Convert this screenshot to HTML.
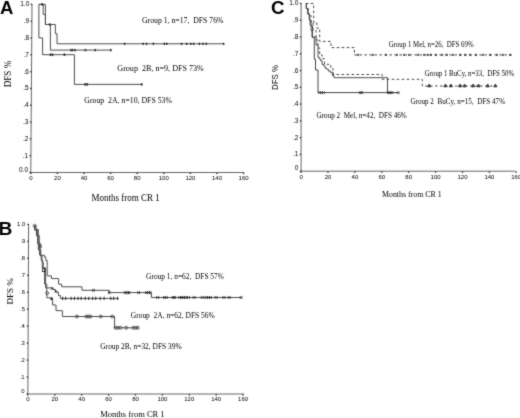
<!DOCTYPE html><html><head><meta charset="utf-8"><style>html,body{margin:0;padding:0;background:#fff;}svg{display:block;}</style></head><body>
<svg width="520" height="418" viewBox="0 0 520 418"><defs><filter id="bl" x="-0.05" y="-0.05" width="1.1" height="1.1" color-interpolation-filters="sRGB"><feConvolveMatrix order="3" kernelMatrix="0.0280 0.0800 0.0280 0.0800 0.5680 0.0800 0.0280 0.0800 0.0280" divisor="1" edgeMode="duplicate" preserveAlpha="true"/></filter></defs>
<g filter="url(#bl)"><rect x="-10" y="-10" width="540" height="438" fill="#fff"/>
<text x="0" y="14" font-family='"Liberation Sans", sans-serif' font-size="18.5" text-anchor="start" font-weight="bold" fill="#000" >A</text>
<text x="-1.4" y="234.7" font-family='"Liberation Sans", sans-serif' font-size="19.2" text-anchor="start" font-weight="bold" fill="#000" >B</text>
<text x="270.9" y="13.9" font-family='"Liberation Sans", sans-serif' font-size="18.7" text-anchor="start" font-weight="bold" fill="#000" >C</text>
<path d="M32.0,4.0 L30.8,172.5" fill="none" stroke="#666" stroke-width="1"/>
<path d="M30.8,172.5 H244" fill="none" stroke="#666" stroke-width="1"/>
<rect x="29.50" y="171.80" width="1.4" height="1.4" fill="#333"/>
<text x="28.1" y="171.65" font-family='"Liberation Sans", sans-serif' font-size="6.5" text-anchor="end" font-weight="normal" fill="#000" >0.0</text>
<rect x="29.62" y="154.99" width="1.4" height="1.4" fill="#333"/>
<text x="28.22" y="157.64" font-family='"Liberation Sans", sans-serif' font-size="6.5" text-anchor="end" font-weight="normal" fill="#000" >.1</text>
<rect x="29.74" y="138.18" width="1.4" height="1.4" fill="#333"/>
<text x="28.34" y="140.83" font-family='"Liberation Sans", sans-serif' font-size="6.5" text-anchor="end" font-weight="normal" fill="#000" >.2</text>
<rect x="29.86" y="121.37" width="1.4" height="1.4" fill="#333"/>
<text x="28.46" y="124.02" font-family='"Liberation Sans", sans-serif' font-size="6.5" text-anchor="end" font-weight="normal" fill="#000" >.3</text>
<rect x="29.98" y="104.56" width="1.4" height="1.4" fill="#333"/>
<text x="28.58" y="107.21" font-family='"Liberation Sans", sans-serif' font-size="6.5" text-anchor="end" font-weight="normal" fill="#000" >.4</text>
<rect x="30.10" y="87.75" width="1.4" height="1.4" fill="#333"/>
<text x="28.7" y="90.4" font-family='"Liberation Sans", sans-serif' font-size="6.5" text-anchor="end" font-weight="normal" fill="#000" >.5</text>
<rect x="30.22" y="70.94" width="1.4" height="1.4" fill="#333"/>
<text x="28.82" y="73.59" font-family='"Liberation Sans", sans-serif' font-size="6.5" text-anchor="end" font-weight="normal" fill="#000" >.6</text>
<rect x="30.34" y="54.13" width="1.4" height="1.4" fill="#333"/>
<text x="28.94" y="56.78" font-family='"Liberation Sans", sans-serif' font-size="6.5" text-anchor="end" font-weight="normal" fill="#000" >.7</text>
<rect x="30.46" y="37.32" width="1.4" height="1.4" fill="#333"/>
<text x="29.06" y="39.97" font-family='"Liberation Sans", sans-serif' font-size="6.5" text-anchor="end" font-weight="normal" fill="#000" >.8</text>
<rect x="30.58" y="20.51" width="1.4" height="1.4" fill="#333"/>
<text x="29.18" y="23.16" font-family='"Liberation Sans", sans-serif' font-size="6.5" text-anchor="end" font-weight="normal" fill="#000" >.9</text>
<rect x="30.70" y="3.70" width="1.4" height="1.4" fill="#333"/>
<text x="29.3" y="6.35" font-family='"Liberation Sans", sans-serif' font-size="6.5" text-anchor="end" font-weight="normal" fill="#000" >1.0</text>
<rect x="30.10" y="172.7" width="1.4" height="1.4" fill="#333"/>
<text x="30.8" y="180.0" font-family='"Liberation Sans", sans-serif' font-size="6" text-anchor="middle" font-weight="normal" fill="#000" >0</text>
<rect x="56.70" y="172.7" width="1.4" height="1.4" fill="#333"/>
<text x="57.4" y="180.0" font-family='"Liberation Sans", sans-serif' font-size="6" text-anchor="middle" font-weight="normal" fill="#000" >20</text>
<rect x="83.30" y="172.7" width="1.4" height="1.4" fill="#333"/>
<text x="84.0" y="180.0" font-family='"Liberation Sans", sans-serif' font-size="6" text-anchor="middle" font-weight="normal" fill="#000" >40</text>
<rect x="109.90" y="172.7" width="1.4" height="1.4" fill="#333"/>
<text x="110.6" y="180.0" font-family='"Liberation Sans", sans-serif' font-size="6" text-anchor="middle" font-weight="normal" fill="#000" >60</text>
<rect x="136.50" y="172.7" width="1.4" height="1.4" fill="#333"/>
<text x="137.2" y="180.0" font-family='"Liberation Sans", sans-serif' font-size="6" text-anchor="middle" font-weight="normal" fill="#000" >80</text>
<rect x="163.10" y="172.7" width="1.4" height="1.4" fill="#333"/>
<text x="163.8" y="180.0" font-family='"Liberation Sans", sans-serif' font-size="6" text-anchor="middle" font-weight="normal" fill="#000" >100</text>
<rect x="189.70" y="172.7" width="1.4" height="1.4" fill="#333"/>
<text x="190.4" y="180.0" font-family='"Liberation Sans", sans-serif' font-size="6" text-anchor="middle" font-weight="normal" fill="#000" >120</text>
<rect x="216.30" y="172.7" width="1.4" height="1.4" fill="#333"/>
<text x="217.0" y="180.0" font-family='"Liberation Sans", sans-serif' font-size="6" text-anchor="middle" font-weight="normal" fill="#000" >140</text>
<rect x="242.90" y="172.7" width="1.4" height="1.4" fill="#333"/>
<text x="243.6" y="180.0" font-family='"Liberation Sans", sans-serif' font-size="6" text-anchor="middle" font-weight="normal" fill="#000" >160</text>
<path d="M38.9,4.4 H43.2 V14.4 H45.4 V24.5 H55.4 V33.7 H57 V43.8 H224.2" fill="none" stroke="#4d4d4d" stroke-width="1"/>
<path d="M38.9,4.4 H45.4 V24.5 H50.4 V50.1 H111.3" fill="none" stroke="#4d4d4d" stroke-width="1"/>
<path d="M38.9,4.4 V37.9 H42.6 V54.7 H74.4 V84.4 H141.7" fill="none" stroke="#4d4d4d" stroke-width="1"/>
<rect x="41.5" y="3.2" width="1.6" height="2.4" fill="#222"/>
<rect x="48.900000000000006" y="23.3" width="1.6" height="2.4" fill="#222"/>
<rect x="123.89999999999999" y="42.699999999999996" width="1.4" height="2.2" fill="#222"/>
<rect x="142.4" y="42.699999999999996" width="1.4" height="2.2" fill="#222"/>
<rect x="145.8" y="42.699999999999996" width="1.4" height="2.2" fill="#222"/>
<rect x="152.70000000000002" y="42.699999999999996" width="1.4" height="2.2" fill="#222"/>
<rect x="163.70000000000002" y="42.699999999999996" width="1.4" height="2.2" fill="#222"/>
<rect x="166.0" y="42.699999999999996" width="1.4" height="2.2" fill="#222"/>
<rect x="180.8" y="42.699999999999996" width="1.4" height="2.2" fill="#222"/>
<rect x="186.0" y="42.699999999999996" width="1.4" height="2.2" fill="#222"/>
<rect x="190.10000000000002" y="42.699999999999996" width="1.4" height="2.2" fill="#222"/>
<rect x="192.9" y="42.699999999999996" width="1.4" height="2.2" fill="#222"/>
<rect x="198.70000000000002" y="42.699999999999996" width="1.4" height="2.2" fill="#222"/>
<rect x="202.20000000000002" y="42.699999999999996" width="1.4" height="2.2" fill="#222"/>
<rect x="205.60000000000002" y="42.699999999999996" width="1.4" height="2.2" fill="#222"/>
<rect x="222.9" y="42.699999999999996" width="1.4" height="2.2" fill="#222"/>
<rect x="70.2" y="48.9" width="1.6" height="2.4" fill="#333"/>
<rect x="71.7" y="48.9" width="1.6" height="2.4" fill="#333"/>
<rect x="74.2" y="48.9" width="1.6" height="2.4" fill="#333"/>
<rect x="84.60000000000001" y="48.9" width="1.6" height="2.4" fill="#333"/>
<rect x="94.4" y="48.9" width="1.6" height="2.4" fill="#333"/>
<rect x="110.0" y="48.9" width="1.6" height="2.4" fill="#333"/>
<rect x="49.7" y="53.5" width="1.6" height="2.4" fill="#222"/>
<rect x="51.7" y="53.5" width="1.6" height="2.4" fill="#222"/>
<rect x="63.60000000000001" y="53.5" width="1.6" height="2.4" fill="#222"/>
<rect x="84.4" y="83.2" width="1.6" height="2.4" fill="#222"/>
<rect x="86.4" y="83.2" width="1.6" height="2.4" fill="#222"/>
<rect x="140.89999999999998" y="83.2" width="1.6" height="2.4" fill="#222"/>
<text x="142" y="23.2" font-family='"Liberation Serif", serif' font-size="8" text-anchor="start" font-weight="normal" fill="#000" textLength="81.5" lengthAdjust="spacingAndGlyphs" >Group 1, n=17,  DFS 76%</text>
<text x="117.3" y="71.0" font-family='"Liberation Serif", serif' font-size="8" text-anchor="start" font-weight="normal" fill="#000" textLength="86.5" lengthAdjust="spacingAndGlyphs" >Group  2B, n=9, DFS 73%</text>
<text x="84.3" y="102.8" font-family='"Liberation Serif", serif' font-size="8" text-anchor="start" font-weight="normal" fill="#000" textLength="87.7" lengthAdjust="spacingAndGlyphs" >Group  2A, n=10, DFS 53%</text>
<text x="91.5" y="200.8" font-family='"Liberation Serif", serif' font-size="9.5" text-anchor="start" font-weight="normal" fill="#000" textLength="68.2" lengthAdjust="spacingAndGlyphs" >Months from CR 1</text>
<text transform="translate(11.3,87.3) rotate(-90)" font-family='"Liberation Serif", serif' font-size="9.5" fill="#000" textLength="26.6" lengthAdjust="spacingAndGlyphs">DFS %</text>
<path d="M28.6,224.0 L27.9,394" fill="none" stroke="#666" stroke-width="1"/>
<path d="M27.9,394 H244" fill="none" stroke="#666" stroke-width="1"/>
<rect x="26.60" y="393.30" width="1.4" height="1.4" fill="#333"/>
<text x="24.6" y="392.97" font-family='"Liberation Sans", sans-serif' font-size="5.9" text-anchor="end" font-weight="normal" fill="#000" >0</text>
<rect x="26.67" y="376.34" width="1.4" height="1.4" fill="#333"/>
<text x="24.67" y="378.81" font-family='"Liberation Sans", sans-serif' font-size="5.9" text-anchor="end" font-weight="normal" fill="#000" >.1</text>
<rect x="26.74" y="359.38" width="1.4" height="1.4" fill="#333"/>
<text x="24.74" y="361.85" font-family='"Liberation Sans", sans-serif' font-size="5.9" text-anchor="end" font-weight="normal" fill="#000" >.2</text>
<rect x="26.81" y="342.42" width="1.4" height="1.4" fill="#333"/>
<text x="24.81" y="344.89" font-family='"Liberation Sans", sans-serif' font-size="5.9" text-anchor="end" font-weight="normal" fill="#000" >.3</text>
<rect x="26.88" y="325.46" width="1.4" height="1.4" fill="#333"/>
<text x="24.88" y="327.93" font-family='"Liberation Sans", sans-serif' font-size="5.9" text-anchor="end" font-weight="normal" fill="#000" >.4</text>
<rect x="26.95" y="308.50" width="1.4" height="1.4" fill="#333"/>
<text x="24.95" y="310.97" font-family='"Liberation Sans", sans-serif' font-size="5.9" text-anchor="end" font-weight="normal" fill="#000" >.5</text>
<rect x="27.02" y="291.54" width="1.4" height="1.4" fill="#333"/>
<text x="25.02" y="294.01" font-family='"Liberation Sans", sans-serif' font-size="5.9" text-anchor="end" font-weight="normal" fill="#000" >.6</text>
<rect x="27.09" y="274.58" width="1.4" height="1.4" fill="#333"/>
<text x="25.09" y="277.05" font-family='"Liberation Sans", sans-serif' font-size="5.9" text-anchor="end" font-weight="normal" fill="#000" >.7</text>
<rect x="27.16" y="257.62" width="1.4" height="1.4" fill="#333"/>
<text x="25.16" y="260.09" font-family='"Liberation Sans", sans-serif' font-size="5.9" text-anchor="end" font-weight="normal" fill="#000" >.8</text>
<rect x="27.23" y="240.66" width="1.4" height="1.4" fill="#333"/>
<text x="25.23" y="243.13" font-family='"Liberation Sans", sans-serif' font-size="5.9" text-anchor="end" font-weight="normal" fill="#000" >.9</text>
<rect x="27.30" y="223.70" width="1.4" height="1.4" fill="#333"/>
<text x="25.3" y="226.17" font-family='"Liberation Sans", sans-serif' font-size="5.9" text-anchor="end" font-weight="normal" fill="#000" >1.0</text>
<rect x="27.20" y="394.2" width="1.4" height="1.4" fill="#333"/>
<text x="27.9" y="400.9" font-family='"Liberation Sans", sans-serif' font-size="6" text-anchor="middle" font-weight="normal" fill="#000" >0</text>
<rect x="54.10" y="394.2" width="1.4" height="1.4" fill="#333"/>
<text x="54.8" y="400.9" font-family='"Liberation Sans", sans-serif' font-size="6" text-anchor="middle" font-weight="normal" fill="#000" >20</text>
<rect x="81.00" y="394.2" width="1.4" height="1.4" fill="#333"/>
<text x="81.7" y="400.9" font-family='"Liberation Sans", sans-serif' font-size="6" text-anchor="middle" font-weight="normal" fill="#000" >40</text>
<rect x="107.90" y="394.2" width="1.4" height="1.4" fill="#333"/>
<text x="108.6" y="400.9" font-family='"Liberation Sans", sans-serif' font-size="6" text-anchor="middle" font-weight="normal" fill="#000" >60</text>
<rect x="134.80" y="394.2" width="1.4" height="1.4" fill="#333"/>
<text x="135.5" y="400.9" font-family='"Liberation Sans", sans-serif' font-size="6" text-anchor="middle" font-weight="normal" fill="#000" >80</text>
<rect x="161.70" y="394.2" width="1.4" height="1.4" fill="#333"/>
<text x="162.4" y="400.9" font-family='"Liberation Sans", sans-serif' font-size="6" text-anchor="middle" font-weight="normal" fill="#000" >100</text>
<rect x="188.60" y="394.2" width="1.4" height="1.4" fill="#333"/>
<text x="189.3" y="400.9" font-family='"Liberation Sans", sans-serif' font-size="6" text-anchor="middle" font-weight="normal" fill="#000" >120</text>
<rect x="215.50" y="394.2" width="1.4" height="1.4" fill="#333"/>
<text x="216.2" y="400.9" font-family='"Liberation Sans", sans-serif' font-size="6" text-anchor="middle" font-weight="normal" fill="#000" >140</text>
<rect x="242.40" y="394.2" width="1.4" height="1.4" fill="#333"/>
<text x="243.1" y="400.9" font-family='"Liberation Sans", sans-serif' font-size="6" text-anchor="middle" font-weight="normal" fill="#000" >160</text>
<path d="M34.7,225.8 H36 V229.4 H38.2 V235 H39.2 V243 H40.2 V255.3 H44.5 V257 H45.8 V260.5 H47.2 V275.9 H51.5 V278.6 H58.6 V284.2 H61.6 V286.8 H82 V290.3 H109.2 V292.6 H151.4 V297.5 H241.5" fill="none" stroke="#4d4d4d" stroke-width="1"/>
<path d="M34.7,225.8 V230 H36.5 V236 H38.3 V250 H40.8 V256 H42 V262 H43.2 V268 H45.6 V287.9 H53 V289.5 H55.5 V292 H58.4 V295.5 H60.3 V298.4 H118.7" fill="none" stroke="#4d4d4d" stroke-width="1"/>
<path d="M34.7,225.8 V230 H37.6 V243.7 H39.6 V255 H41.2 V260 H42.3 V268 H44.6 V284 H46.8 V297.8 H52.6 V305 H56 V310.7 H62.4 V316.5 H114.6 V327.8 H138.5" fill="none" stroke="#4d4d4d" stroke-width="1"/>
<circle cx="34.7" cy="225.8" r="1.5" fill="none" stroke="#333" stroke-width="0.75"/>
<rect x="42.5" y="268.6" width="2.4" height="3.0" fill="none" stroke="#222" stroke-width="0.8"/>
<rect x="39.6" y="245" width="2.0" height="2.6" fill="none" stroke="#444" stroke-width="0.7"/>
<circle cx="47.2" cy="293.2" r="1.5" fill="none" stroke="#333" stroke-width="0.75"/>
<path d="M51.1,287.6L53.1,289.6M51.1,289.6L53.1,287.6" stroke="#111" stroke-width="0.9" fill="none"/>
<path d="M54.8,290.6L56.8,292.6M54.8,292.6L56.8,290.6" stroke="#111" stroke-width="0.9" fill="none"/>
<rect x="50.5" y="297.9" width="1.6" height="2.2" fill="#222"/>
<path d="M92.2,289.0L94.8,291.6M92.2,291.6L94.8,289.0" stroke="#111" stroke-width="0.9" fill="none"/>
<path d="M107.9,291.3L110.5,293.90000000000003M107.9,293.90000000000003L110.5,291.3M123.7,291.3L126.3,293.90000000000003M123.7,293.90000000000003L126.3,291.3M126.2,291.3L128.8,293.90000000000003M126.2,293.90000000000003L128.8,291.3M127.7,291.3L130.3,293.90000000000003M127.7,293.90000000000003L130.3,291.3M137.39999999999998,291.3L140.0,293.90000000000003M137.39999999999998,293.90000000000003L140.0,291.3M145.1,291.3L147.70000000000002,293.90000000000003M145.1,293.90000000000003L147.70000000000002,291.3M147.0,291.3L149.60000000000002,293.90000000000003M147.0,293.90000000000003L149.60000000000002,291.3M148.89999999999998,291.3L151.5,293.90000000000003M148.89999999999998,293.90000000000003L151.5,291.3" stroke="#111" stroke-width="0.9" fill="none"/>
<path d="M156.39999999999998,296.2L159.0,298.8M156.39999999999998,298.8L159.0,296.2M163.1,296.2L165.70000000000002,298.8M163.1,298.8L165.70000000000002,296.2M165.0,296.2L167.60000000000002,298.8M165.0,298.8L167.60000000000002,296.2M171.79999999999998,296.2L174.4,298.8M171.79999999999998,298.8L174.4,296.2M173.2,296.2L175.8,298.8M173.2,298.8L175.8,296.2M178.5,296.2L181.10000000000002,298.8M178.5,298.8L181.10000000000002,296.2M180.39999999999998,296.2L183.0,298.8M180.39999999999998,298.8L183.0,296.2M182.39999999999998,296.2L185.0,298.8M182.39999999999998,298.8L185.0,296.2M184.29999999999998,296.2L186.9,298.8M184.29999999999998,298.8L186.9,296.2M187.2,296.2L189.8,298.8M187.2,298.8L189.8,296.2M192.89999999999998,296.2L195.5,298.8M192.89999999999998,298.8L195.5,296.2M201.0,296.2L203.60000000000002,298.8M201.0,298.8L203.60000000000002,296.2M204.7,296.2L207.3,298.8M204.7,298.8L207.3,296.2M207.2,296.2L209.8,298.8M207.2,298.8L209.8,296.2M209.1,296.2L211.70000000000002,298.8M209.1,298.8L211.70000000000002,296.2M214.89999999999998,296.2L217.5,298.8M214.89999999999998,298.8L217.5,296.2M222.6,296.2L225.20000000000002,298.8M222.6,298.8L225.20000000000002,296.2M227.89999999999998,296.2L230.5,298.8M227.89999999999998,298.8L230.5,296.2M239.89999999999998,296.2L242.5,298.8M239.89999999999998,298.8L242.5,296.2" stroke="#111" stroke-width="0.9" fill="none"/>
<rect x="62.050000000000004" y="296.7" width="1.1" height="3.4" fill="#333"/>
<rect x="65.15" y="296.7" width="1.1" height="3.4" fill="#333"/>
<rect x="70.55" y="296.7" width="1.1" height="3.4" fill="#333"/>
<rect x="73.95" y="296.7" width="1.1" height="3.4" fill="#333"/>
<rect x="77.45" y="296.7" width="1.1" height="3.4" fill="#333"/>
<rect x="80.55" y="296.7" width="1.1" height="3.4" fill="#333"/>
<rect x="84.75" y="296.7" width="1.1" height="3.4" fill="#333"/>
<rect x="88.25" y="296.7" width="1.1" height="3.4" fill="#333"/>
<rect x="92.05" y="296.7" width="1.1" height="3.4" fill="#333"/>
<rect x="95.15" y="296.7" width="1.1" height="3.4" fill="#333"/>
<rect x="99.65" y="296.7" width="1.1" height="3.4" fill="#333"/>
<rect x="103.55" y="296.7" width="1.1" height="3.4" fill="#333"/>
<rect x="110.25" y="296.7" width="1.1" height="3.4" fill="#333"/>
<rect x="113.15" y="296.7" width="1.1" height="3.4" fill="#333"/>
<rect x="116.95" y="296.7" width="1.1" height="3.4" fill="#333"/>
<circle cx="76.9" cy="316.5" r="1.5" fill="none" stroke="#333" stroke-width="0.75"/>
<circle cx="86.4" cy="316.5" r="1.5" fill="none" stroke="#333" stroke-width="0.75"/>
<circle cx="88.4" cy="316.5" r="1.5" fill="none" stroke="#333" stroke-width="0.75"/>
<circle cx="90.4" cy="316.5" r="1.5" fill="none" stroke="#333" stroke-width="0.75"/>
<circle cx="100.8" cy="316.5" r="1.5" fill="none" stroke="#333" stroke-width="0.75"/>
<circle cx="112.3" cy="316.5" r="1.5" fill="none" stroke="#333" stroke-width="0.75"/>
<circle cx="115.5" cy="327.8" r="1.5" fill="none" stroke="#333" stroke-width="0.75"/>
<circle cx="117.8" cy="327.8" r="1.5" fill="none" stroke="#333" stroke-width="0.75"/>
<circle cx="120.5" cy="327.8" r="1.5" fill="none" stroke="#333" stroke-width="0.75"/>
<circle cx="126.2" cy="327.8" r="1.5" fill="none" stroke="#333" stroke-width="0.75"/>
<circle cx="133.3" cy="327.8" r="1.5" fill="none" stroke="#333" stroke-width="0.75"/>
<circle cx="135.6" cy="327.8" r="1.5" fill="none" stroke="#333" stroke-width="0.75"/>
<circle cx="137.7" cy="327.8" r="1.5" fill="none" stroke="#333" stroke-width="0.75"/>
<text x="146.1" y="279.0" font-family='"Liberation Serif", serif' font-size="7.8" text-anchor="start" font-weight="normal" fill="#000" textLength="77.8" lengthAdjust="spacingAndGlyphs" >Group 1, n=62,  DFS 57%</text>
<text x="130.8" y="317.8" font-family='"Liberation Serif", serif' font-size="7.8" text-anchor="start" font-weight="normal" fill="#000" textLength="83.9" lengthAdjust="spacingAndGlyphs" >Group  2A, n=62, DFS 56%</text>
<text x="100.3" y="348.5" font-family='"Liberation Serif", serif' font-size="7.8" text-anchor="start" font-weight="normal" fill="#000" textLength="81.3" lengthAdjust="spacingAndGlyphs" >Group 2B, n=32, DFS 39%</text>
<text x="100.2" y="416.7" font-family='"Liberation Serif", serif' font-size="8.5" text-anchor="start" font-weight="normal" fill="#000" textLength="64.4" lengthAdjust="spacingAndGlyphs" >Months from CR 1</text>
<text transform="translate(13.2,304.6) rotate(-90)" font-family='"Liberation Serif", serif' font-size="8.8" fill="#000" textLength="26.5" lengthAdjust="spacingAndGlyphs">DFS %</text>
<path d="M301.1,3.1 L301.1,171.2" fill="none" stroke="#666" stroke-width="1"/>
<path d="M301.1,171.2 H515.5" fill="none" stroke="#666" stroke-width="1"/>
<rect x="299.80" y="170.50" width="1.4" height="1.4" fill="#333"/>
<text x="298.3" y="170.35" font-family='"Liberation Sans", sans-serif' font-size="6.5" text-anchor="end" font-weight="normal" fill="#000" >0</text>
<rect x="299.80" y="153.73" width="1.4" height="1.4" fill="#333"/>
<text x="298.3" y="156.38" font-family='"Liberation Sans", sans-serif' font-size="6.5" text-anchor="end" font-weight="normal" fill="#000" >.1</text>
<rect x="299.80" y="136.96" width="1.4" height="1.4" fill="#333"/>
<text x="298.3" y="139.61" font-family='"Liberation Sans", sans-serif' font-size="6.5" text-anchor="end" font-weight="normal" fill="#000" >.2</text>
<rect x="299.80" y="120.19" width="1.4" height="1.4" fill="#333"/>
<text x="298.3" y="122.84" font-family='"Liberation Sans", sans-serif' font-size="6.5" text-anchor="end" font-weight="normal" fill="#000" >.3</text>
<rect x="299.80" y="103.42" width="1.4" height="1.4" fill="#333"/>
<text x="298.3" y="106.07" font-family='"Liberation Sans", sans-serif' font-size="6.5" text-anchor="end" font-weight="normal" fill="#000" >.4</text>
<rect x="299.80" y="86.65" width="1.4" height="1.4" fill="#333"/>
<text x="298.3" y="89.3" font-family='"Liberation Sans", sans-serif' font-size="6.5" text-anchor="end" font-weight="normal" fill="#000" >.5</text>
<rect x="299.80" y="69.88" width="1.4" height="1.4" fill="#333"/>
<text x="298.3" y="72.53" font-family='"Liberation Sans", sans-serif' font-size="6.5" text-anchor="end" font-weight="normal" fill="#000" >.6</text>
<rect x="299.80" y="53.11" width="1.4" height="1.4" fill="#333"/>
<text x="298.3" y="55.76" font-family='"Liberation Sans", sans-serif' font-size="6.5" text-anchor="end" font-weight="normal" fill="#000" >.7</text>
<rect x="299.80" y="36.34" width="1.4" height="1.4" fill="#333"/>
<text x="298.3" y="38.99" font-family='"Liberation Sans", sans-serif' font-size="6.5" text-anchor="end" font-weight="normal" fill="#000" >.8</text>
<rect x="299.80" y="19.57" width="1.4" height="1.4" fill="#333"/>
<text x="298.3" y="22.22" font-family='"Liberation Sans", sans-serif' font-size="6.5" text-anchor="end" font-weight="normal" fill="#000" >.9</text>
<rect x="299.80" y="2.80" width="1.4" height="1.4" fill="#333"/>
<text x="298.3" y="5.45" font-family='"Liberation Sans", sans-serif' font-size="6.5" text-anchor="end" font-weight="normal" fill="#000" >1.0</text>
<rect x="300.40" y="171.39999999999998" width="1.4" height="1.4" fill="#333"/>
<text x="301.1" y="179" font-family='"Liberation Sans", sans-serif' font-size="6" text-anchor="middle" font-weight="normal" fill="#000" >0</text>
<rect x="327.30" y="171.39999999999998" width="1.4" height="1.4" fill="#333"/>
<text x="328.0" y="179" font-family='"Liberation Sans", sans-serif' font-size="6" text-anchor="middle" font-weight="normal" fill="#000" >20</text>
<rect x="354.20" y="171.39999999999998" width="1.4" height="1.4" fill="#333"/>
<text x="354.9" y="179" font-family='"Liberation Sans", sans-serif' font-size="6" text-anchor="middle" font-weight="normal" fill="#000" >40</text>
<rect x="381.10" y="171.39999999999998" width="1.4" height="1.4" fill="#333"/>
<text x="381.8" y="179" font-family='"Liberation Sans", sans-serif' font-size="6" text-anchor="middle" font-weight="normal" fill="#000" >60</text>
<rect x="408.00" y="171.39999999999998" width="1.4" height="1.4" fill="#333"/>
<text x="408.7" y="179" font-family='"Liberation Sans", sans-serif' font-size="6" text-anchor="middle" font-weight="normal" fill="#000" >80</text>
<rect x="434.90" y="171.39999999999998" width="1.4" height="1.4" fill="#333"/>
<text x="435.6" y="179" font-family='"Liberation Sans", sans-serif' font-size="6" text-anchor="middle" font-weight="normal" fill="#000" >100</text>
<rect x="461.80" y="171.39999999999998" width="1.4" height="1.4" fill="#333"/>
<text x="462.5" y="179" font-family='"Liberation Sans", sans-serif' font-size="6" text-anchor="middle" font-weight="normal" fill="#000" >120</text>
<rect x="488.70" y="171.39999999999998" width="1.4" height="1.4" fill="#333"/>
<text x="489.4" y="179" font-family='"Liberation Sans", sans-serif' font-size="6" text-anchor="middle" font-weight="normal" fill="#000" >140</text>
<rect x="515.60" y="171.39999999999998" width="1.4" height="1.4" fill="#333"/>
<text x="516.3" y="179" font-family='"Liberation Sans", sans-serif' font-size="6" text-anchor="middle" font-weight="normal" fill="#000" >160</text>
<path d="M305.8,3.5 H313.7 V22.5 H316.8 V28.2 H319.7 V41.4 H331 V47.6 H354.4 V54.9 H514" fill="none" stroke="#444" stroke-width="1" stroke-dasharray="2.6,2.4"/>
<path d="M306.3,3.5 V8.6 H307.7 V13.9 H309.2 V19.1 H310.1 V24.9 H311.1 V30.6 H312 V37.2 H314.3 V59.3 H315.5 V70 H318 V92.6 H398.8" fill="none" stroke="#444" stroke-width="1"/>
<path d="M306.3,3.5 V8.6 H308 V14 H309.5 V20 H311 V26 H312.5 V37.2 H316.1 V45 H318 V57.5 H319.7 V59.3 H320.9 V61 H322.1 V64.6 H323.9 V65.8 H325.1 V68.2 H326.9 V69.4 H328.7 V71.2 H330.5 V72.4 H332.3 V75.5 H334 V77.7 H387.5 V92.6 H398.8" fill="none" stroke="#4a4a4a" stroke-width="1"/>
<path d="M308,8 V14 H311 V22 H313 V30 H316 V40 H318 V47.9 H319.7 V55 H322.1 V58.7 H324.5 V64.3 H330.8 V68.2 H332.9 V71 H333.5 V74.5 H382.2 V79.3 H422.3 V86 H496" fill="none" stroke="#4a4a4a" stroke-width="1" stroke-dasharray="2.6,2.4"/>
<path d="M318.4,91.5L320.6,93.69999999999999M318.4,93.69999999999999L320.6,91.5M320.4,91.5L322.6,93.69999999999999M320.4,93.69999999999999L322.6,91.5M322.4,91.5L324.6,93.69999999999999M322.4,93.69999999999999L324.6,91.5M358.9,91.5L361.1,93.69999999999999M358.9,93.69999999999999L361.1,91.5M360.9,91.5L363.1,93.69999999999999M360.9,93.69999999999999L363.1,91.5M386.9,91.5L389.1,93.69999999999999M386.9,93.69999999999999L389.1,91.5M388.9,91.5L391.1,93.69999999999999M388.9,93.69999999999999L391.1,91.5M390.9,91.5L393.1,93.69999999999999M390.9,93.69999999999999L393.1,91.5M397.4,91.5L399.6,93.69999999999999M397.4,93.69999999999999L399.6,91.5" stroke="#111" stroke-width="0.9" fill="none"/>
<rect x="357.35" y="53.8" width="1.3" height="2.2" fill="#222"/>
<rect x="372.35" y="53.8" width="1.3" height="2.2" fill="#222"/>
<rect x="385.35" y="53.8" width="1.3" height="2.2" fill="#222"/>
<rect x="396.35" y="53.8" width="1.3" height="2.2" fill="#222"/>
<rect x="403.35" y="53.8" width="1.3" height="2.2" fill="#222"/>
<rect x="408.35" y="53.8" width="1.3" height="2.2" fill="#222"/>
<rect x="417.35" y="53.8" width="1.3" height="2.2" fill="#222"/>
<rect x="423.35" y="53.8" width="1.3" height="2.2" fill="#222"/>
<rect x="427.35" y="53.8" width="1.3" height="2.2" fill="#222"/>
<rect x="430.35" y="53.8" width="1.3" height="2.2" fill="#222"/>
<rect x="435.35" y="53.8" width="1.3" height="2.2" fill="#222"/>
<rect x="441.35" y="53.8" width="1.3" height="2.2" fill="#222"/>
<rect x="446.35" y="53.8" width="1.3" height="2.2" fill="#222"/>
<rect x="452.35" y="53.8" width="1.3" height="2.2" fill="#222"/>
<rect x="459.35" y="53.8" width="1.3" height="2.2" fill="#222"/>
<rect x="464.35" y="53.8" width="1.3" height="2.2" fill="#222"/>
<rect x="469.35" y="53.8" width="1.3" height="2.2" fill="#222"/>
<rect x="475.35" y="53.8" width="1.3" height="2.2" fill="#222"/>
<rect x="482.35" y="53.8" width="1.3" height="2.2" fill="#222"/>
<rect x="489.35" y="53.8" width="1.3" height="2.2" fill="#222"/>
<rect x="496.35" y="53.8" width="1.3" height="2.2" fill="#222"/>
<rect x="502.35" y="53.8" width="1.3" height="2.2" fill="#222"/>
<rect x="509.35" y="53.8" width="1.3" height="2.2" fill="#222"/>
<path d="M427.7,86.8 L429.2,84.1 L430.7,86.8 Z" fill="#888" stroke="#111" stroke-width="0.9"/>
<path d="M443.9,86.8 L445.4,84.1 L446.9,86.8 Z" fill="#888" stroke="#111" stroke-width="0.9"/>
<path d="M449.3,86.8 L450.8,84.1 L452.3,86.8 Z" fill="#888" stroke="#111" stroke-width="0.9"/>
<path d="M458.5,86.8 L460,84.1 L461.5,86.8 Z" fill="#888" stroke="#111" stroke-width="0.9"/>
<path d="M463.1,86.8 L464.6,84.1 L466.1,86.8 Z" fill="#888" stroke="#111" stroke-width="0.9"/>
<path d="M471.6,86.8 L473.1,84.1 L474.6,86.8 Z" fill="#888" stroke="#111" stroke-width="0.9"/>
<path d="M477.0,86.8 L478.5,84.1 L480.0,86.8 Z" fill="#888" stroke="#111" stroke-width="0.9"/>
<path d="M486.2,86.8 L487.7,84.1 L489.2,86.8 Z" fill="#888" stroke="#111" stroke-width="0.9"/>
<path d="M493.9,86.8 L495.4,84.1 L496.9,86.8 Z" fill="#888" stroke="#111" stroke-width="0.9"/>
<text x="388.7" y="46.9" font-family='"Liberation Serif", serif' font-size="7.2" text-anchor="start" font-weight="normal" fill="#000" textLength="85" lengthAdjust="spacingAndGlyphs" >Group 1 Mel, n=26,  DFS 69%</text>
<text x="424.8" y="75.8" font-family='"Liberation Serif", serif' font-size="7.2" text-anchor="start" font-weight="normal" fill="#000" textLength="89.3" lengthAdjust="spacingAndGlyphs" >Group 1 BuCy, n=33,  DFS 50%</text>
<text x="410.4" y="103.9" font-family='"Liberation Serif", serif' font-size="7.2" text-anchor="start" font-weight="normal" fill="#000" textLength="94.7" lengthAdjust="spacingAndGlyphs" >Group 2  BuCy, n=15,  DFS 47%</text>
<text x="316.6" y="118.3" font-family='"Liberation Serif", serif' font-size="7.2" text-anchor="start" font-weight="normal" fill="#000" textLength="90.2" lengthAdjust="spacingAndGlyphs" >Group 2  Mel, n=42,  DFS 46%</text>
<text x="382" y="196.6" font-family='"Liberation Serif", serif' font-size="8" text-anchor="start" font-weight="normal" fill="#000" textLength="59.6" lengthAdjust="spacingAndGlyphs" >Months from CR 1</text>
<text transform="translate(278.4,89.9) rotate(-90)" font-family='"Liberation Sans", sans-serif' font-size="8.4" fill="#000" textLength="25" lengthAdjust="spacingAndGlyphs">DFS %</text>
</g></svg></body></html>
